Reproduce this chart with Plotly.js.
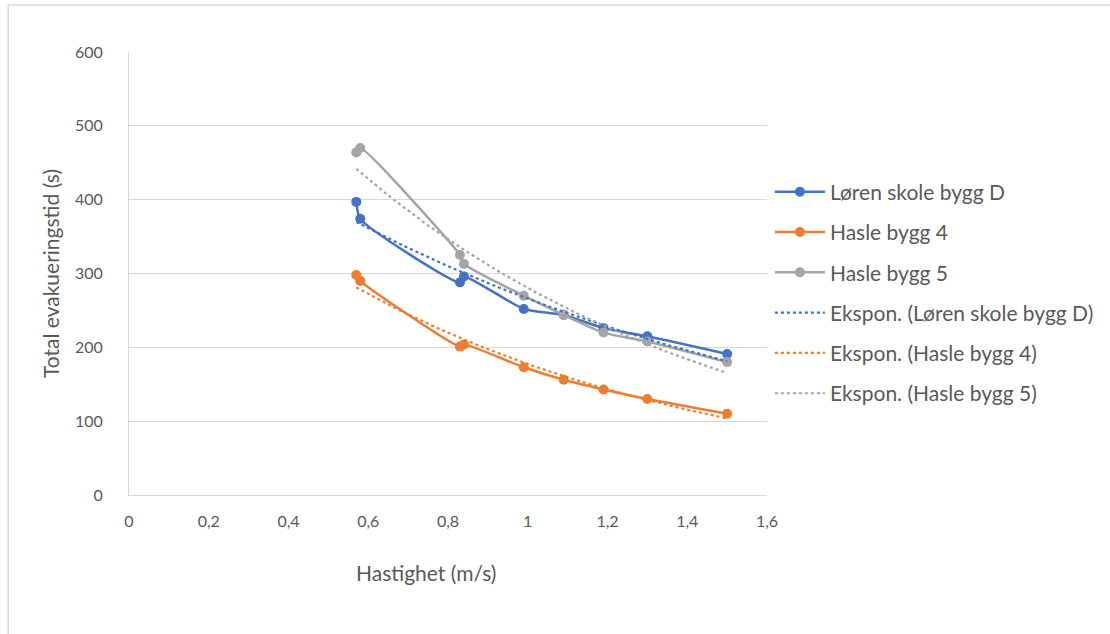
<!DOCTYPE html>
<html>
<head>
<meta charset="utf-8">
<script src="https://cdn.plot.ly/plotly-3.0.1.min.js"></script>
<style>
html,body{margin:0;padding:0;background:#fff;}
#chart{width:1110px;height:634px;}
</style>
</head>
<body>
<div id="chart"></div>
<script>
// Data
var speed = [0.57, 0.58, 0.83, 0.84, 0.99, 1.09, 1.19, 1.30, 1.50];
var lorenD = [397, 374, 288, 296, 252, 244, 226, 215, 191];
var hasle4 = [298, 290, 201, 204, 173, 156, 143, 130, 110];
var hasle5 = [464, 470, 325, 313, 270, 244, 220, 208, 180];
var seriesNames = ["Løren skole bygg D", "Hasle bygg 4", "Hasle bygg 5"];
var trendNames = ["Ekspon. (Løren skole bygg D)", "Ekspon. (Hasle bygg 4)", "Ekspon. (Hasle bygg 5)"];
var xTickVals = [0, 0.2, 0.4, 0.6, 0.8, 1, 1.2, 1.4, 1.6];
var xTickText = ["0", "0,2", "0,4", "0,6", "0,8", "1", "1,2", "1,4", "1,6"];
var xTitle = "Hastighet (m/s)";
var yTitle = "Total evakueringstid (s)";
var colors = ["#4472C4", "#ED7D31", "#A5A5A5"];

// Exponential trendline (least squares on ln y), as the spreadsheet does
function expFit(xs, ys) {
  var n = xs.length, mx = 0, my = 0;
  var ly = ys.map(function (v) { return Math.log(v); });
  for (var i = 0; i < n; i++) { mx += xs[i]; my += ly[i]; }
  mx /= n; my /= n;
  var sxy = 0, sxx = 0;
  for (var j = 0; j < n; j++) { sxy += (xs[j] - mx) * (ly[j] - my); sxx += (xs[j] - mx) * (xs[j] - mx); }
  var b = sxy / sxx, a = my - b * mx;
  var x0 = Math.min.apply(null, xs), x1 = Math.max.apply(null, xs);
  var tx = [], ty = [];
  for (var k = 0; k <= 60; k++) {
    var x = x0 + (x1 - x0) * k / 60;
    tx.push(x); ty.push(Math.exp(a + b * x));
  }
  return {x: tx, y: ty};
}

var allY = [lorenD, hasle4, hasle5];
var traces = [];
for (var s = 0; s < 3; s++) {
  traces.push({
    x: speed, y: allY[s], name: seriesNames[s], type: "scatter", mode: "lines+markers",
    line: {color: colors[s], width: 2.5, shape: "spline", smoothing: 0.6},
    marker: {color: colors[s], size: 10},
    legendgroup: "g" + s
  });
}
for (var t = 0; t < 3; t++) {
  var f = expFit(speed, allY[t]);
  traces.push({
    x: f.x, y: f.y, name: trendNames[t], type: "scatter", mode: "lines",
    line: {color: colors[t], width: 2.2, dash: "dot"},
    legendgroup: "t" + t
  });
}

var fontFam = "Lato, 'Open Sans', sans-serif";
var layout = {
  width: 1110, height: 634,
  margin: {l: 129, r: 342, t: 52, b: 139},
  paper_bgcolor: "#ffffff", plot_bgcolor: "#ffffff",
  font: {family: fontFam, color: "#595959", size: 15},
  showlegend: true,
  legend: {
    x: 1.003, y: 0.73, xanchor: "left", yanchor: "top",
    font: {size: 21, color: "#595959", family: fontFam},
    itemwidth: 50,
    tracegroupgap: 10, bgcolor: "rgba(0,0,0,0)"
  },
  xaxis: {
    range: [0, 1.6], tickvals: xTickVals, ticktext: xTickText,
    showgrid: false, zeroline: false, showline: true, linecolor: "#d9d9d9", linewidth: 1,
    ticks: "", ticklen: 0, ticklabelstandoff: 12, tickfont: {size: 16, color: "#595959"},
    fixedrange: true
  },
  yaxis: {
    range: [0, 600], dtick: 100, tick0: 0,
    showgrid: true, gridcolor: "#d9d9d9", gridwidth: 1,
    zeroline: false, showline: true, linecolor: "#d9d9d9", linewidth: 1,
    ticks: "", ticklabelstandoff: 22, tickfont: {size: 16, color: "#595959"},
    title: {text: yTitle, font: {size: 21, color: "#595959"}, standoff: 9},
    fixedrange: true
  },
  annotations: [{
    text: xTitle, xref: "paper", yref: "paper",
    x: (426 - 129) / 639, y: -(572 - 495) / 443, xanchor: "center", yanchor: "middle",
    showarrow: false, font: {size: 21, color: "#595959", family: fontFam}
  }],
  shapes: [{
    type: "rect", xref: "paper", yref: "paper",
    x0: (8 - 129) / 639, x1: 1.6, y0: -0.5, y1: (495 - 5) / 443,
    line: {color: "#d9d9d9", width: 1.5}, fillcolor: "rgba(0,0,0,0)", layer: "below"
  }]
};

Plotly.newPlot("chart", traces, layout, {displayModeBar: false, staticPlot: true});
</script>
</body>
</html>
